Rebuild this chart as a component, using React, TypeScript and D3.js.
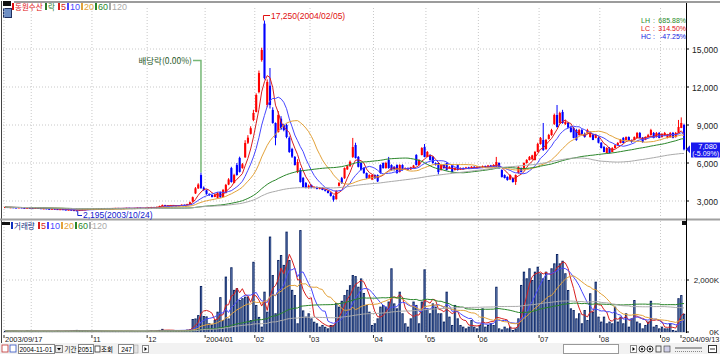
import React from 'react';
import * as d3 from 'd3';

// daily OHLC, 2003/09/17 .. 2004/09/13 (247 sessions)
const opens = [
  2500, 2520, 2490, 2500, 2480, 2470, 2490, 2460, 2450, 2470,
  2440, 2420, 2450, 2430, 2400, 2410, 2380, 2370, 2390, 2360,
  2340, 2350, 2320, 2300, 2310, 2280, 2260, 2240, 2290, 2320,
  2340, 2370, 2350, 2380, 2400, 2390, 2410, 2430, 2420, 2400,
  2420, 2440, 2430, 2410, 2430, 2450, 2440, 2420, 2440, 2460,
  2450, 2430, 2450, 2480, 2520, 2500, 2530, 2600, 2680, 2650,
  2630, 2660, 2640, 2620, 2650, 2700, 2680, 2750, 2950, 3600,
  4000, 5050, 4050, 3850, 3560, 3480, 3320, 3250, 3700, 3320,
  3630, 4300, 5600, 4420, 5840, 6400, 5600, 6450, 7600, 8300,
  9400, 10030, 11600, 14130, 17000, 10580, 12100, 10190, 9160, 8450,
  9500, 9000, 9000, 7980, 7100, 6480, 5290, 5450, 4820, 4420,
  4030, 4270, 4050, 4100, 3950, 4030, 3900, 3800, 3650, 3400,
  3150, 4200, 4800, 4800, 5500, 5750, 6480, 7420, 6480, 6000,
  5600, 5210, 4820, 4700, 5050, 5050, 5840, 6000, 5600, 6240,
  5840, 5700, 5840, 5300, 5840, 5500, 5600, 5500, 5650, 6630,
  5840, 6630, 7260, 6480, 6630, 6480, 6000, 6000, 5450, 5840,
  6000, 5600, 5840, 5450, 5840, 5500, 5600, 5550, 5650, 5600,
  5700, 5620, 5700, 5650, 5750, 5700, 5800, 5750, 5700, 6000,
  5450, 5050, 4900, 4700, 4820, 4500, 5210, 5600, 5500, 6000,
  6240, 6300, 6240, 6870, 7500, 7820, 7100, 7900, 8210, 9080,
  9790, 9160, 10030, 9080, 9160, 8800, 8770, 8600, 8210, 8600,
  8300, 8370, 8050, 8210, 7980, 7980, 7600, 7260, 6790, 7180,
  6870, 7180, 7400, 7580, 7980, 7820, 8050, 7800, 7820, 7980,
  8370, 7980, 7820, 8050, 8210, 8370, 8050, 8370, 8050, 8200,
  7980, 8050, 8370, 8050, 8370, 8770, 9000,
];
const highs = [
  2540, 2530, 2520, 2510, 2500, 2510, 2500, 2480, 2490, 2480,
  2450, 2470, 2460, 2440, 2430, 2420, 2400, 2410, 2400, 2370,
  2370, 2360, 2330, 2330, 2320, 2290, 2270, 2300, 2340, 2360,
  2390, 2380, 2400, 2420, 2420, 2430, 2450, 2450, 2430, 2440,
  2460, 2460, 2440, 2450, 2470, 2470, 2450, 2460, 2480, 2480,
  2460, 2470, 2500, 2540, 2540, 2560, 2630, 2720, 2700, 2670,
  2690, 2680, 2660, 2670, 2730, 2720, 2780, 2950, 3350, 4100,
  4400, 5250, 4150, 3900, 3600, 3500, 3550, 3700, 3750, 3950,
  4350, 4800, 5700, 5150, 6000, 6500, 6000, 7800, 8200, 8900,
  10200, 11500, 13300, 15100, 17250, 12600, 13500, 10400, 9200, 10100,
  9700, 9100, 9100, 8100, 7200, 6550, 6300, 5600, 4900, 4500,
  4300, 4300, 4150, 4150, 4100, 4080, 3950, 3850, 3700, 3450,
  3850, 4500, 4900, 5650, 5850, 6200, 7980, 7600, 6550, 6050,
  5650, 5250, 5100, 5100, 5100, 5100, 5900, 6050, 6100, 6480,
  5900, 5750, 5900, 5900, 5900, 5650, 5650, 5700, 5850, 6700,
  6300, 7250, 7500, 6950, 6700, 6550, 6050, 6050, 5900, 5900,
  6050, 5750, 5900, 5650, 5900, 5650, 5650, 5700, 5700, 5750,
  5750, 5750, 5750, 5800, 5800, 5850, 5850, 5900, 6480, 6050,
  5500, 5100, 4950, 5100, 4850, 5100, 5750, 5650, 6050, 6300,
  6550, 6650, 6950, 7600, 8050, 9160, 7900, 8300, 8700, 9900,
  10580, 10050, 10200, 9400, 9250, 8900, 8850, 8700, 8700, 8700,
  8400, 8700, 8500, 8300, 8300, 8050, 7650, 7350, 7250, 7250,
  7250, 7450, 7650, 7900, 8050, 8100, 8100, 7850, 8100, 8450,
  8450, 8050, 8100, 8300, 8700, 8450, 8450, 8450, 8350, 8450,
  8300, 8450, 8450, 8450, 9400, 9600, 9100,
];
const lows = [
  2480, 2470, 2470, 2460, 2450, 2450, 2440, 2430, 2430, 2420,
  2400, 2410, 2410, 2380, 2380, 2360, 2350, 2350, 2340, 2320,
  2320, 2300, 2280, 2280, 2260, 2240, 2195, 2230, 2280, 2300,
  2320, 2330, 2340, 2360, 2370, 2380, 2400, 2400, 2380, 2390,
  2410, 2410, 2390, 2400, 2420, 2420, 2400, 2410, 2430, 2430,
  2410, 2420, 2440, 2470, 2480, 2490, 2520, 2590, 2630, 2610,
  2620, 2620, 2600, 2600, 2640, 2660, 2670, 2740, 2930, 3550,
  3950, 3950, 3800, 3500, 3400, 3280, 3300, 3200, 3250, 3300,
  3600, 4250, 4450, 4400, 5000, 5250, 5550, 6400, 7500, 8250,
  9300, 10000, 11500, 14000, 12600, 10400, 10300, 9100, 7400, 8400,
  8600, 8500, 7950, 6800, 6400, 5800, 5200, 4450, 4050, 4000,
  3980, 4000, 4000, 3920, 3920, 3850, 3750, 3600, 3350, 2950,
  3100, 4150, 4350, 4750, 5450, 5700, 6400, 6350, 5650, 5400,
  5150, 4750, 4780, 4650, 4750, 4500, 5150, 5550, 5550, 5550,
  5400, 5400, 5150, 5250, 5400, 5450, 5450, 5450, 5600, 5800,
  5800, 6600, 6450, 6450, 6200, 5950, 5800, 5100, 5400, 5550,
  5400, 5550, 5250, 5400, 5400, 5450, 5500, 5500, 5550, 5550,
  5580, 5580, 5600, 5600, 5650, 5650, 5700, 5700, 5680, 5550,
  4850, 4780, 4600, 4650, 4450, 4270, 5150, 5250, 5450, 5950,
  6200, 6250, 6200, 6850, 7450, 6950, 7050, 7850, 8150, 9000,
  8800, 9100, 9100, 9000, 8750, 8400, 7950, 7750, 8150, 8250,
  8000, 8300, 8000, 7800, 7950, 7550, 7150, 6850, 6750, 6750,
  6850, 7150, 7350, 7550, 7550, 7800, 7750, 7600, 7800, 7950,
  7950, 7600, 7800, 8000, 8150, 7950, 8000, 7950, 8000, 8150,
  7950, 8000, 7950, 8000, 8350, 8750, 7000,
];
const closes = [
  2520, 2490, 2500, 2480, 2470, 2490, 2460, 2450, 2470, 2440,
  2420, 2450, 2430, 2400, 2410, 2380, 2370, 2390, 2360, 2340,
  2350, 2320, 2300, 2310, 2280, 2260, 2240, 2290, 2320, 2340,
  2370, 2350, 2380, 2400, 2390, 2410, 2430, 2420, 2400, 2420,
  2440, 2430, 2410, 2430, 2450, 2440, 2420, 2440, 2460, 2450,
  2430, 2450, 2480, 2520, 2500, 2530, 2600, 2680, 2650, 2630,
  2660, 2640, 2620, 2650, 2700, 2680, 2750, 2900, 3300, 4000,
  4300, 4030, 3870, 3560, 3480, 3320, 3500, 3630, 3300, 3870,
  4270, 4700, 4500, 5050, 5050, 5300, 5900, 7580, 8000, 8750,
  9950, 11370, 13100, 14920, 12710, 12400, 10580, 9160, 7980, 9790,
  8700, 8600, 8050, 6870, 6500, 5840, 6080, 4500, 4100, 4030,
  4200, 4030, 4100, 3950, 4050, 3870, 3800, 3630, 3400, 3100,
  3800, 4420, 4420, 5600, 5750, 6100, 7260, 6400, 5700, 5450,
  5200, 4820, 5050, 5050, 4800, 4550, 5210, 5600, 6000, 5600,
  5450, 5500, 5210, 5840, 5450, 5600, 5500, 5650, 5800, 5840,
  6240, 7180, 6480, 6870, 6240, 6000, 5840, 5290, 5840, 5600,
  5450, 5700, 5290, 5600, 5450, 5600, 5550, 5650, 5600, 5700,
  5620, 5700, 5650, 5750, 5700, 5800, 5750, 5850, 6080, 5600,
  4900, 4820, 4660, 5050, 4500, 5050, 5680, 5290, 6000, 6240,
  6480, 6600, 6870, 7500, 7980, 7030, 7820, 8210, 8600, 9790,
  8840, 9950, 9160, 9240, 8800, 8450, 7980, 7820, 8600, 8300,
  8050, 8600, 8450, 7820, 8210, 7600, 7180, 6870, 7180, 6790,
  7180, 7400, 7580, 7820, 7580, 8050, 7800, 7660, 8050, 8370,
  7980, 7660, 8050, 8200, 8600, 7980, 8370, 7980, 8300, 8370,
  8210, 8370, 7980, 8370, 8840, 9160, 7080,
];
// volume in thousands of shares
const volumes = [
  45, 30, 25, 40, 35, 20, 30, 25, 50, 30,
  25, 35, 20, 30, 40, 25, 30, 20, 35, 45,
  30, 25, 40, 35, 50, 60, 80, 55, 40, 30,
  35, 25, 30, 40, 25, 20, 30, 35, 25, 30,
  20, 25, 30, 20, 35, 25, 30, 20, 25, 30,
  25, 30, 40, 50, 35, 45, 80, 120, 70, 50,
  40, 60, 45, 50, 70, 60, 90, 100, 500, 520,
  650, 1770, 615, 600, 335, 290, 460, 780, 1340, 460,
  2130, 520, 2490, 1620, 1690, 1230, 1300, 1360, 1360, 460,
  2700, 1040, 580, 205, 1550, 780, 3670, 2190, 720, 2770,
  2960, 2580, 3860, 2770, 1620, 1420, 335, 3920, 830, 590,
  720, 525, 395, 335, 205, 270, 200, 140, 270, 270,
  1115, 975, 1200, 1420, 1620, 1800, 2190, 2150, 1740, 2060,
  1500, 1040, 780, 270, 335, 525, 975, 1040, 975, 1170,
  2450, 1100, 910, 1550, 720, 335, 205, 525, 1170, 1040,
  335, 1170, 2410, 910, 720, 1100, 975, 720, 720, 400,
  1550, 590, 270, 1040, 525, 270, 205, 140, 205, 460,
  205, 140, 270, 910, 205, 270, 335, 270, 1740, 140,
  100, 205, 140, 205, 77, 140, 525, 1810, 2320, 2065,
  2450, 2000, 2320, 2510, 2260, 2065, 2320, 2000, 2450, 2640,
  3000, 2640, 2740, 2260, 1615, 910, 845, 525, 720, 335,
  845, 460, 1490, 780, 1935, 590, 400, 590, 335, 400,
  335, 975, 400, 590, 335, 720, 205, 525, 1230, 400,
  335, 140, 270, 400, 1200, 205, 270, 140, 205, 140,
  140, 335, 77, 50, 1300, 1420, 700,
];

const monthIdx = [0, 10, 32, 52, 73, 91, 111, 134, 153, 172, 194, 216, 238];
const monthLabels = ['2003/09/17', '', '11', '12', '2004/01', '02', '03', '04', '05', '06', '07', '08', '09'];
const lastLabel = '2004/09/13';
const priceTicks = [3000, 6000, 9000, 12000, 15000];
const volTicks = [0, 2000];
const maPeriods = [5, 10, 20, 60, 120];
const maColors = ['#d82020', '#4848ff', '#e3a23a', '#2a862a', '#aaaaaa'];

const F = "'Liberation Sans', 'Noto Sans CJK KR', sans-serif";
const KR = "'Noto Sans CJK KR', sans-serif";

const movingAvg = (vals: number[], p: number) =>
  vals.map((_, i) => d3.mean(vals.slice(Math.max(0, i - p + 1), i + 1)) as number);

const fmt = d3.format(',');

type LegendItem = { c: string; t: string; tc: string; w: number };

export default function App() {
  const n = closes.length;
  const xs = d3.scaleLinear().domain([0, n - 1]).range([5, 684]);
  const yP = d3.scaleLinear().domain([3000, 15000]).range([201, 49]);
  const yV = d3.scaleLinear().domain([0, 2000]).range([332, 280]);

  const pLine = d3.line<number>().x((_, i) => xs(i)).y(v => yP(v));
  const vLine = d3.line<number>().x((_, i) => xs(i)).y(v => yV(v));

  const gridX = monthIdx.map(i => (i === 0 ? 4 : xs(i - 0.5)));
  const divX = xs(71);
  const peakX = xs(94);
  const lowX = xs(26);

  const legend = (items: LegendItem[], x0: number, y: number) => {
    let x = x0;
    return items.map((it, k) => {
      const kr = /[가-힣]/.test(it.t);
      const g = (
        <g key={k}>
          <rect x={x} y={y - 7} width={2} height={7} fill={it.c} />
          <text x={x + 3} y={y} fontSize={kr ? 7.5 : 9} fill={it.tc} fontFamily={kr ? KR : F}>{it.t}</text>
        </g>
      );
      x += it.w;
      return g;
    });
  };

  const maItems: LegendItem[] = maPeriods.map((p, k) => ({ c: maColors[k], t: String(p), tc: maColors[k], w: p < 10 ? 9 : 14 }));

  return (
    <svg width={720} height={354} style={{ position: 'absolute', left: 0, top: 0, background: '#fff' }}>
      <defs>
        <clipPath id="cp"><rect x={3} y={8} width={683} height={210} /></clipPath>
        <clipPath id="cv"><rect x={3} y={221} width={683} height={112} /></clipPath>
      </defs>

      {/* frame */}
      <line x1={14} x2={720} y1={2} y2={2} stroke="#9c9c9c" strokeWidth={2} />
      <rect x={3} y={1} width={8} height={5} fill="#111" />
      <rect x={3.5} y={8.5} width={8} height={9} fill="#6f8fc4" stroke="#203060" />
      <line x1={1.5} x2={1.5} y1={1} y2={343} stroke="#444" />
      <line x1={0} x2={720} y1={219.5} y2={219.5} stroke="#a0a0a0" strokeWidth={2} />
      <line x1={686.5} x2={686.5} y1={3} y2={333} stroke="#000" />
      <rect x={682} y={221} width={4} height={4} fill="#111" />

      {/* grid */}
      {gridX.map((x, k) => (
        <line key={'gx' + k} x1={x} x2={x} y1={8} y2={333} stroke="#c8c8c8" strokeDasharray="1 2" />
      ))}
      {priceTicks.map(v => (
        <line key={'gp' + v} x1={3} x2={686} y1={yP(v)} y2={yP(v)} stroke="#c8c8c8" strokeDasharray="1 2" />
      ))}
      <line x1={3} x2={686} y1={yV(2000)} y2={yV(2000)} stroke="#c8c8c8" strokeDasharray="1 2" />

      {/* price panel */}
      <g clipPath="url(#cp)">
        {closes.map((c, i) => {
          const o = opens[i];
          const up = c >= o;
          const col = up ? '#ff0000' : '#0000ff';
          const top = yP(Math.max(o, c));
          const h = Math.max(1, Math.abs(yP(o) - yP(c)));
          return (
            <g key={'c' + i}>
              <line x1={xs(i)} x2={xs(i)} y1={yP(highs[i])} y2={yP(lows[i])} stroke={col} strokeWidth={1} />
              <rect x={xs(i) - 1} y={top} width={2.1} height={h} fill={col} />
            </g>
          );
        })}
        {maPeriods.map((p, k) => (
          <path key={'pm' + p} d={pLine(movingAvg(closes, p)) || ''} fill="none" stroke={maColors[k]} strokeWidth={1} />
        ))}
      </g>

      {/* volume panel */}
      <g clipPath="url(#cv)">
        {volumes.map((v, i) => (
          <g key={'v' + i}>
            <rect x={xs(i) - 1.1} y={yV(v)} width={2.3} height={yV(0) - yV(v)} fill="#0a2260" />
            <line x1={xs(i) + 0.3} x2={xs(i) + 0.3} y1={yV(v) + 1} y2={yV(0)} stroke="#8eaadc" strokeWidth={0.55} />
          </g>
        ))}
        {maPeriods.map((p, k) => (
          <path key={'vm' + p} d={vLine(movingAvg(volumes, p)) || ''} fill="none" stroke={maColors[k]} strokeWidth={1} />
        ))}
      </g>
      <line x1={3} x2={686} y1={332.5} y2={332.5} stroke="#bbb" strokeWidth={0.5} />

      {/* legends */}
      {legend([{ c: '#e01010', t: '동원수산', tc: '#e01010', w: 33 }, { c: '#2a7a2a', t: '락', tc: '#2a7a2a', w: 13 }, ...maItems], 12, 10)}
      <rect x={2} y={222} width={8} height={3} fill="#111" />
      {legend([{ c: '#1030c0', t: '거래량', tc: '#102a80', w: 27 }, ...maItems], 11, 229)}

      {/* LH / LC / HC */}
      {[
        ['LH', '685.88%', '#2a8a2a', 23],
        ['LC', '314.50%', '#e01010', 31],
        ['HC', '-47.25%', '#1020e0', 39],
      ].map(([a, b, c, y]) => (
        <g key={a as string} fontFamily={F} fontSize={7} fill={c as string}>
          <text x={641} y={y as number}>{a}</text>
          <text x={653} y={y as number}>:</text>
          <text x={686} y={y as number} textAnchor="end">{b}</text>
        </g>
      ))}

      {/* annotations */}
      <path d={`M${peakX - 1},${yP(17250)} V15.5 H270`} fill="none" stroke="#e01010" />
      <text x={271} y={19} fontSize={8.5} fill="#e01010" fontFamily={F}>17,250(2004/02/05)</text>
      <path d={`M${lowX + 1},${yP(2195)} V215.5 H82`} fill="none" stroke="#1020d0" />
      <text x={83} y={218} fontSize={8.5} fill="#1020d0" fontFamily={F}>2,195(2003/10/24)</text>
      <path d={`M193,60.5 H${divX} V${yP(5250)}`} fill="none" stroke="#76b876" strokeWidth={1.5} />
      <text x={192} y={64} fontSize={8.5} fill="#2a5a2a" textAnchor="end" fontFamily={KR}>배당락(0.00%)</text>

      {/* right price axis */}
      {priceTicks.map(v => (
        <g key={'pt' + v}>
          <line x1={686} x2={689} y1={yP(v)} y2={yP(v)} stroke="#000" />
          <text x={718} y={yP(v) + 3.5} fontSize={8.5} textAnchor="end" fontFamily={F} fill="#222">{fmt(v)}</text>
        </g>
      ))}
      {volTicks.map(v => (
        <g key={'vt' + v}>
          <line x1={686} x2={689} y1={yV(v)} y2={yV(v)} stroke="#000" />
          <text x={719} y={yV(v) + 2.5} fontSize={8} textAnchor="end" fontFamily={F} fill="#222">{fmt(v)}K</text>
        </g>
      ))}
      <path d={`M686,${yP(7080)} l4,-4 v8 z`} fill="#1a1aee" />
      <rect x={691} y={142.5} width={29} height={15} fill="#1a1aee" />
      <text x={717} y={149} fontSize={7.5} fill="#fff" textAnchor="end" fontFamily={F}>7,080</text>
      <text x={719} y={156} fontSize={7} fill="#fff" textAnchor="end" fontFamily={F}>(-5.09%)</text>

      {/* x axis */}
      {monthIdx.map((i, k) => {
        if (!monthLabels[k]) return null;
        const x = gridX[k];
        return (
          <g key={'xl' + k}>
            <line x1={x} x2={x} y1={335} y2={338} stroke="#333" />
            <text x={x + 1} y={342} fontSize={7.5} fontFamily={F} fill="#222">{monthLabels[k]}</text>
          </g>
        );
      })}
      <line x1={xs(n - 1) - 3} x2={xs(n - 1) - 3} y1={335} y2={338} stroke="#333" />
      <text x={xs(n - 1) - 2} y={342} fontSize={7.5} fontFamily={F} fill="#222">{lastLabel}</text>

      {/* bottom toolbar */}
      <rect x={0} y={343} width={720} height={11} fill="#f2f2f2" />
      <rect x={2} y={345} width={6} height={7} fill="#fff" stroke="#c03030" strokeWidth={0.8} />
      <rect x={10} y={345} width={6} height={7} fill="#fff" stroke="#3050c0" strokeWidth={0.8} />
      <rect x={18.5} y={344.5} width={36} height={9} fill="#fff" stroke="#888" />
      <text x={19.5} y={351.8} fontSize={6.5} fontFamily={F} fill="#000">2004-11-01</text>
      <rect x={55.5} y={345.5} width={7} height={7} fill="#e8e8e8" stroke="#888" />
      <path d="M57,348 h4 l-2,2.5 z" fill="#000" />
      <text x={64.5} y={352} fontSize={6.5} fontFamily={KR} fill="#000">기간</text>
      <rect x={78.5} y={344.5} width={15} height={9} fill="#fff" stroke="#888" />
      <text x={92.5} y={351.8} fontSize={6.5} fontFamily={F} fill="#000" textAnchor="end">2051</text>
      <rect x={95} y={346} width={5} height={6} fill="#fff" stroke="#333" strokeWidth={0.8} />
      <text x={101} y={352} fontSize={6.5} fontFamily={KR} fill="#000">조회</text>
      <rect x={118.5} y={344.5} width={15} height={9} fill="#fff" stroke="#888" />
      <text x={132} y={351.8} fontSize={6.5} fontFamily={F} fill="#000" textAnchor="end">247</text>
      <rect x={134} y={345} width={4} height={8} fill="#e4e4e4" stroke="#999" strokeWidth={0.5} />
      <rect x={142.5} y={345.5} width={6} height={7} fill="#fff" stroke="#888" />
      <path d="M144.5,347 l2.5,2 l-2.5,2 z" fill="#000" />
      <rect x={563.5} y={344.5} width={55} height={9} fill="#fff" stroke="#999" />
      <rect x={630.5} y={345.5} width={6} height={7} fill="#fff" stroke="#888" />
      <path d="M632.5,347 l2.5,2 l-2.5,2 z" fill="#000" />
      <circle cx={642} cy={349} r={3} fill="none" stroke="#333" />
      <circle cx={642} cy={349} r={1.2} fill="#333" />
      <circle cx={650} cy={349} r={3} fill="none" stroke="#333" />
      <circle cx={650} cy={349} r={1.2} fill="#333" />
      <rect x={656} y={346} width={5} height={6} fill="none" stroke="#333" strokeWidth={0.8} />
      <rect x={664} y={346} width={6} height={6} fill="#d0d0e8" stroke="#333" strokeWidth={0.6} />
      <line x1={675} x2={702} y1={348} y2={348} stroke="#555" />
      <line x1={675} x2={702} y1={351.5} y2={351.5} stroke="#888" strokeDasharray="1 1" />
      <rect x={708.5} y={345.5} width={8} height={7} fill="#fff" stroke="#333" />
      <line x1={710} x2={715} y1={349} y2={349} stroke="#333" />
    </svg>
  );
}
